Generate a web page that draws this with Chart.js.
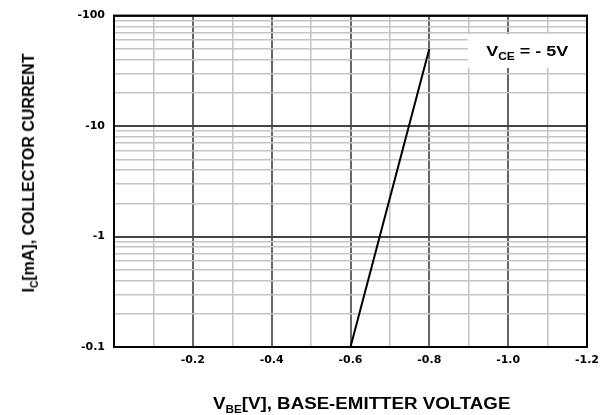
<!doctype html>
<html lang="en">
  <head>
    <meta charset="utf-8">
    <title>Ic vs VBE</title>
    <style>
      * {
        margin: 0;
        padding: 0;
        font-family: "Liberation Sans", Arial, sans-serif;
      }
      body { background: white; }
      .chartBox {
        position: relative;
        width: 607px;
        height: 415px;
      }
      .note {
        position: absolute;
        left: 468px;
        top: 34px;
        width: 118px;
        height: 34px;
        background: white;
        font-weight: bold;
        font-size: 15px;
        line-height: 34px;
        text-align: center;
      }
      .note span {
        display: inline-block;
        transform: scaleX(1.2);
      }
      .xTitle {
        position: absolute;
        left: 213px;
        top: 395px;
        font-weight: bold;
        font-size: 16px;
        white-space: nowrap;
        transform: scaleX(1.17);
        transform-origin: left center;
      }
      .yTitle {
        position: absolute;
        left: 30px;
        top: 173px;
        transform: translate(-50%, -50%) rotate(-90deg);
        font-weight: bold;
        font-size: 16px;
        white-space: nowrap;
      }
      sub { font-size: 10px; }
    </style>
  </head>
  <body>
    <div class="chartBox">
      <canvas id="myChart"></canvas>
      <div class="note"><span>V<sub>CE</sub> = - 5V</span></div>
      <div class="xTitle">V<sub>BE</sub>[V], BASE-EMITTER VOLTAGE</div>
      <div class="yTitle">I<sub>C</sub>[mA], COLLECTOR CURRENT</div>
    </div>
    <script src="https://cdn.jsdelivr.net/npm/chart.js/dist/chart.umd.min.js"></script>
    <script>
    // data
    const vbe = [-0.6, -0.8];
    const ic = [-0.1, -50];

    // axis ticks
    const xLabels = [-0.2, -0.4, -0.6, -0.8, -1.0, -1.2];
    const yDecades = [0.1, 1, 10, 100];

    const points = vbe.map((v, i) => ({ x: v, y: Math.abs(ic[i]) }));

    // grid positions: every 0.1 V, and 1..9 inside each log decade
    const xGrid = [];
    for (let i = 0; i <= 12; i++) xGrid.push(-i / 10);
    const yGrid = [];
    for (let d = 0; d < yDecades.length - 1; d++) {
      for (let m = 1; m < 10; m++) yGrid.push(+(yDecades[d] * m).toPrecision(3));
    }
    yGrid.push(yDecades[yDecades.length - 1]);

    const isMajorX = v => xLabels.some(l => Math.abs(l - v) < 1e-6) || Math.abs(v) < 1e-6;
    const isDecade = v => yDecades.some(d => Math.abs(d - v) < 1e-9);

    const tickFont = { size: 11, weight: 'bold', family: '"DejaVu Sans", sans-serif' };

    const frame = {
      id: 'frame',
      afterDraw(chart) {
        const a = chart.chartArea, c = chart.ctx;
        c.save();
        c.strokeStyle = '#000';
        c.lineWidth = 2;
        c.strokeRect(a.left, a.top, a.right - a.left, a.bottom - a.top);
        c.restore();
      }
    };

    const config = {
      type: 'line',
      data: {
        datasets: [{
          data: points,
          borderColor: '#000',
          borderWidth: 2,
          pointRadius: 0,
          tension: 0
        }]
      },
      options: {
        responsive: true,
        maintainAspectRatio: false,
        animation: false,
        layout: { padding: { top: 12, right: 20, left: 0, bottom: 0 } },
        plugins: { legend: { display: false }, tooltip: { enabled: false } },
        scales: {
          x: {
            type: 'linear',
            min: -1.2,
            max: 0,
            reverse: true,
            afterBuildTicks: s => { s.ticks = xGrid.map(v => ({ value: v })); },
            afterFit: s => { s.height = 68; },
            grid: {
              drawTicks: false,
              color: ctx => isMajorX(ctx.tick.value) ? '#666' : '#c4c4c4',
              lineWidth: ctx => isMajorX(ctx.tick.value) ? 2 : 1.5
            },
            border: { display: false },
            ticks: {
              autoSkip: false,
              maxRotation: 0,
              padding: 7,
              color: '#000',
              font: tickFont,
              callback: v => xLabels.some(l => Math.abs(l - v) < 1e-6) ? v.toFixed(1) : ''
            }
          },
          y: {
            type: 'logarithmic',
            min: 0.1,
            max: 100,
            afterBuildTicks: s => { s.ticks = yGrid.map(v => ({ value: v })); },
            afterFit: s => { s.width = 114; },
            grid: {
              drawTicks: false,
              color: ctx => isDecade(ctx.tick.value) ? '#444' : '#c4c4c4',
              lineWidth: ctx => isDecade(ctx.tick.value) ? 2 : 1.5
            },
            border: { display: false },
            ticks: {
              autoSkip: false,
              padding: 9,
              color: '#000',
              font: tickFont,
              callback: v => isDecade(v) ? '-' + v : ''
            }
          }
        }
      },
      plugins: [frame]
    };

    const ctx = document.getElementById('myChart');
    const myChart = new Chart(ctx, config);
    </script>
  </body>
</html>
